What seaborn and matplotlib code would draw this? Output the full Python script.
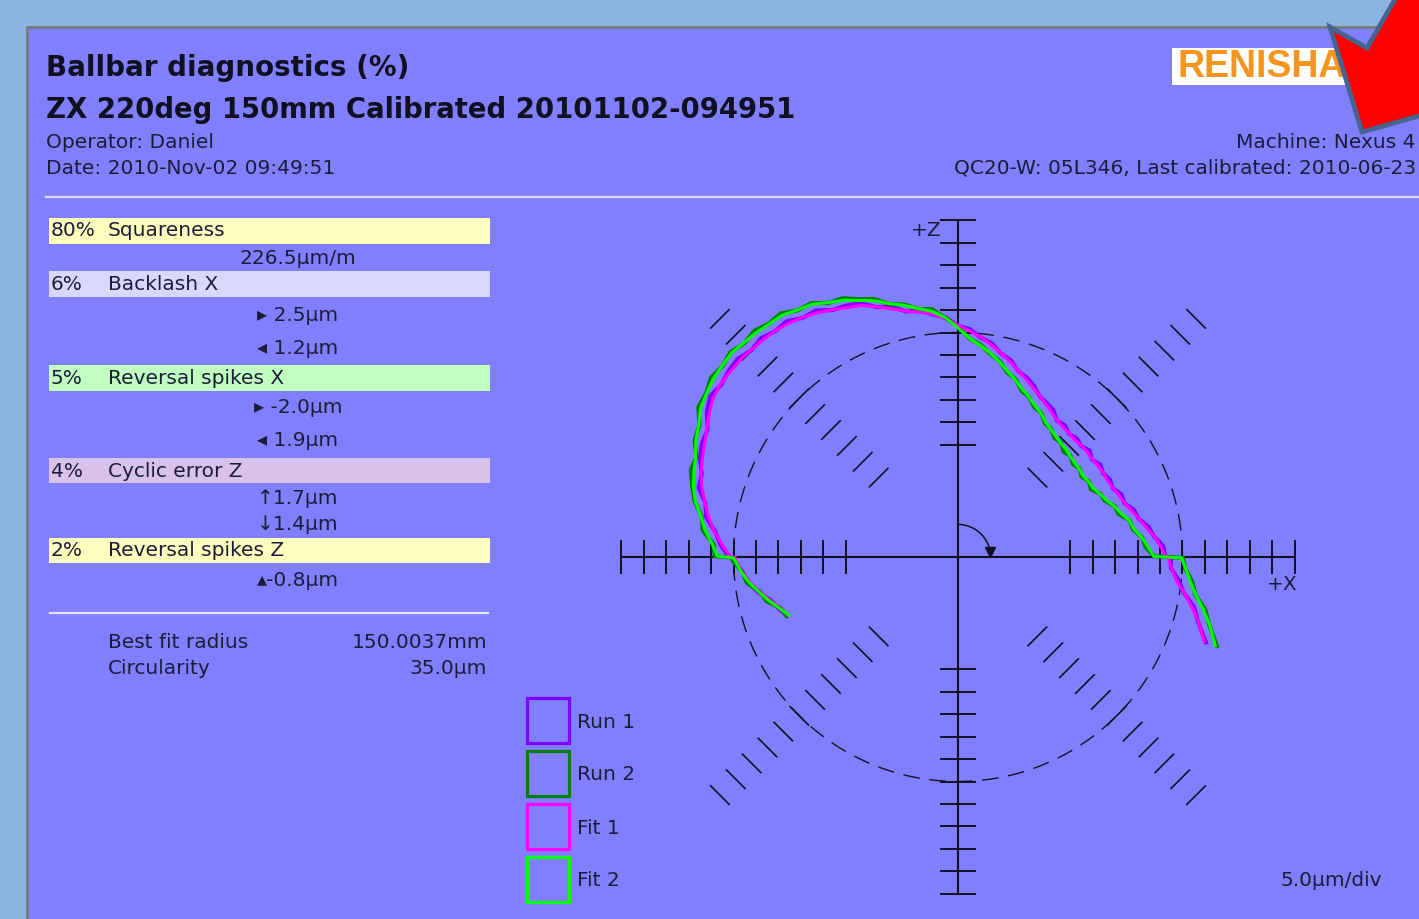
import numpy as np
import pandas as pd
import matplotlib
matplotlib.use('Agg')
import matplotlib.pyplot as plt
from matplotlib.patches import Rectangle, Polygon
from matplotlib.lines import Line2D
import seaborn as sns

# ---------------- values ----------------
# angle around the test arc (deg) and radial deviation (um) per series
theta_deg = [199, 196, 193, 190, 187, 184, 181, 180.2, 179.8,
             177, 174, 171, 168, 165, 162, 159, 156, 153, 150, 147, 144, 141, 138, 135,
             132, 129, 126, 123, 120, 117, 114, 111, 108, 105, 102, 99, 96, 93, 90,
             87, 84, 81, 78, 75, 72, 69, 66, 63, 60, 57, 54, 51, 48, 45, 42, 39, 36,
             33, 30, 27, 24, 21, 18, 15, 12, 9, 6, 3, 0.2,
             -0.2, -3, -6, -9, -12, -15, -19]

run1_um = [-9.8, -8.4, -7.2, -4.8, -3.0, -1.9, -0.2, -0.3, 1.2,
           3.0, 4.4, 6.8, 7.5, 9.8, 10.0, 11.6, 12.4, 12.6, 14.6, 15.8, 15.2, 15.8, 16.0, 15.1,
           15.6, 14.7, 14.9, 13.5, 13.4, 11.7, 11.3, 10.6, 8.5, 7.8, 5.9, 5.6, 4.3, 3.5, 1.5,
           0.8, -0.9, -1.8, -3.7, -4.6, -6.5, -7.2, -8.3, -9.9, -10.4, -11.0, -12.5, -12.2, -13.1,
           -12.6, -13.1, -12.3, -13.1, -12.2, -12.7, -12.0, -12.3, -11.0, -11.1, -9.4, -8.9,
           -7.0, -6.1, -4.2, -3.9,
           -2.6, -2.5, -0.6, 0.9, 3.8, 5.3, 8.4]

run2_um = [-9.6, -8.9, -6.2, -5.3, -2.6, -1.9, 0.2, 0.1, 4.2,
           4.5, 7.2, 7.8, 10.0, 11.3, 12.6, 12.4, 14.2, 14.6, 16.8, 16.9, 18.0, 17.5, 18.2, 17.3,
           17.8, 16.9, 17.1, 15.5, 15.3, 13.5, 13.1, 11.5, 10.4, 8.3, 7.5, 5.9, 5.5, 3.3, 1.4,
           -1.3, -2.4, -4.2, -5.4, -7.5, -8.4, -10.4, -11.0, -12.6, -12.9, -14.5, -14.7, -15.9,
           -15.7, -16.8, -16.3, -17.1, -16.5, -17.2, -16.3, -16.8, -15.3, -15.0, -13.3, -13.0,
           -10.9, -10.6, -8.7, -8.2, -6.3,
           0.1, 0.7, 2.5, 3.5, 6.3, 7.9, 11.0]

fit1_um = [-10.0, -8.8, -7.0, -5.2, -3.4, -1.8, -0.6, -0.4, 0.8,
           2.6, 4.6, 6.2, 7.6, 9.0, 10.2, 11.0, 11.8, 12.8, 14.0, 15.0, 15.4, 15.4, 15.4, 15.2,
           15.0, 14.8, 14.3, 13.6, 12.8, 11.8, 10.8, 10.0, 8.6, 7.2, 6.0, 5.2, 4.4, 3.2, 1.6,
           0.4, -0.8, -2.2, -3.6, -5.0, -6.4, -7.6, -8.8, -9.8, -10.8, -11.6, -12.4, -12.8,
           -13.0, -13.2, -13.0, -12.9, -13.0, -12.8, -12.6, -12.6, -12.2, -11.6, -11.0, -10.0,
           -8.8, -7.6, -6.0, -4.8, -3.8,
           -3.2, -2.4, -1.2, 1.0, 3.2, 5.4, 8.0]

fit2_um = [-10.2, -8.6, -6.8, -5.0, -3.2, -1.6, -0.4, 0.0, 3.6,
           4.8, 6.6, 8.0, 9.8, 11.0, 11.8, 12.6, 13.9, 14.8, 16.2, 16.8, 17.4, 17.6, 17.9, 17.5,
           17.2, 16.8, 16.6, 15.6, 15.0, 13.6, 12.6, 11.2, 10.0, 8.4, 7.3, 6.0, 5.0, 3.4, 1.0,
           -1.2, -2.6, -4.0, -5.6, -7.2, -8.6, -10.0, -11.0, -12.2, -13.0, -14.2, -14.8, -15.4,
           -15.8, -16.0, -16.4, -16.6, -16.6, -16.8, -16.4, -16.2, -15.4, -14.6, -13.4, -12.4,
           -11.0, -10.3, -8.8, -7.6, -6.4,
           -0.2, 0.8, 2.0, 3.6, 5.8, 8.0, 10.6]

series_names = ['Run 1', 'Run 2', 'Fit 1', 'Fit 2']
series_colors = ['#8000FF', '#008000', '#FF00FF', '#00FF00']

diag_pct = ['80%', '6%', '5%', '4%', '2%']
diag_names = ['Squareness', 'Backlash X', 'Reversal spikes X', 'Cyclic error Z', 'Reversal spikes Z']
diag_values = [['226.5µm/m'], ['▸ 2.5µm', '◂ 1.2µm'], ['▸ -2.0µm', '◂ 1.9µm'],
               ['↑1.7µm', '↓1.4µm'], ['▴-0.8µm']]
summary_names = ['Best fit radius', 'Circularity']
summary_values = ['150.0037mm', '35.0µm']

NOMINAL_DIV = 10      # dashed reference circle, in divisions
UM_PER_DIV = 5.0

# ---------------- figure / layout helpers (pixel coords, y from top) ----------------
W, H = 1419, 919
TXT = '#1c1c38'
plt.rcParams['font.family'] = 'DejaVu Sans'
fig = plt.figure(figsize=(W / 100, H / 100), dpi=100, facecolor='#8DB3E2')


def ftext(x, y, s, **kw):
    kw.setdefault('color', TXT)
    kw.setdefault('va', 'center')
    kw.setdefault('fontsize', 14.5)
    fig.text(x / W, 1 - y / H, s, **kw)


def frect(x0, y0, x1, y1, **kw):
    fig.add_artist(Rectangle((x0 / W, 1 - y1 / H), (x1 - x0) / W, (y1 - y0) / H,
                             transform=fig.transFigure, **kw))


def fline(x0, x1, y, **kw):
    fig.add_artist(Line2D([x0 / W, x1 / W], [1 - y / H, 1 - y / H],
                          transform=fig.transFigure, **kw))


# report panel
frect(27, 27, W + 10, H + 10, facecolor='#8080FF', edgecolor='#7A7A7A', lw=2, zorder=-5)

# header
ftext(46, 68, 'Ballbar diagnostics (%)', fontsize=20, fontweight='bold', color='#101020')
ftext(46, 110, 'ZX 220deg 150mm Calibrated 20101102-094951', fontsize=19.8,
      fontweight='bold', color='#101020')
ftext(46, 142, 'Operator: Daniel')
ftext(46, 168, 'Date: 2010-Nov-02 09:49:51')
ftext(1416, 142, 'Machine: Nexus 4', ha='right')
ftext(1416, 168, 'QC20-W: 05L346, Last calibrated: 2010-06-23', ha='right')
fline(46, W, 197, color='#DCDCF4', lw=1.6)

# logo + red arrow
frect(1172, 48, 1390, 85, facecolor='white', edgecolor='none', zorder=1)
ftext(1177, 67, 'RENISHAW', family='Liberation Sans', fontweight='bold', fontsize=27,
      color='#F7941D', zorder=2)
arrow_px = [(1362, 132), (1330, 27), (1367, 48), (1467, -126), (1532, -89),
            (1432, 85), (1462, 104)]
fig.add_artist(Polygon([(x / W, 1 - y / H) for x, y in arrow_px], closed=True,
                       transform=fig.transFigure, facecolor='#FF0000',
                       edgecolor='#45648F', lw=3.4, joinstyle='miter', zorder=6))

# diagnostics table
row_y = [231, 284, 378, 471, 550]
row_colors = ['#FFFFC0', '#D8D8FF', '#C0FFC0', '#D8C2EA', '#FFFFC0']
value_y = [[258], [315, 348], [408, 441], [498, 524], [581]]
for pct, name, vals, yc, col, vys in zip(diag_pct, diag_names, diag_values,
                                         row_y, row_colors, value_y):
    frect(49, yc - 12.5, 490, yc + 12.5, facecolor=col, edgecolor='none', zorder=-1)
    ftext(51, yc, pct)
    ftext(108, yc, name)
    for v, vy in zip(vals, vys):
        ftext(298, vy, v, ha='center')
fline(50, 488, 613, color='#E6E6FF', lw=1.6)
for i, (n, v) in enumerate(zip(summary_names, summary_values)):
    ftext(108, 642 + 27 * i, n)
    ftext(487, 642 + 27 * i, v, ha='right')

# legend boxes
for i, (name, col) in enumerate(zip(series_names, series_colors)):
    y0 = 698 + 53 * i
    frect(527, y0, 569, y0 + 45, facecolor='none', edgecolor=col, lw=2.3, zorder=2)
    ftext(577, y0 + 24, name)

ftext(1280, 881, '5.0µm/div')
ftext(926, 231, '+Z', ha='center')
ftext(1282, 585, '+X', ha='center')

# ---------------- polar error plot ----------------
PX_PER_DIV = 22.45
cx, cy = 958, 557
half = 16
ax = fig.add_axes([(cx - half * PX_PER_DIV) / W, (H - cy - half * PX_PER_DIV) / H,
                   2 * half * PX_PER_DIV / W, 2 * half * PX_PER_DIV / H])
ax.set_xlim(-half, half)
ax.set_ylim(-half, half)

rows = []
for name, devs in zip(series_names, [run1_um, run2_um, fit1_um, fit2_um]):
    for t, d in zip(theta_deg, devs):
        rows.append((name, t, d))
df = pd.DataFrame(rows, columns=['series', 'theta', 'dev'])
rad = NOMINAL_DIV + df['dev'] / UM_PER_DIV
df['x'] = rad * np.cos(np.radians(df['theta']))
df['y'] = rad * np.sin(np.radians(df['theta']))

for name, col, lw in zip(series_names, series_colors, [2.9, 2.9, 2.2, 2.2]):
    sns.lineplot(data=df[df.series == name], x='x', y='y', sort=False, estimator=None,
                 color=col, lw=lw, ax=ax, zorder=4)

# cross axes with division ticks
k = '#111122'
ax.plot([-15, 15], [0, 0], color=k, lw=1.5, zorder=2)
ax.plot([0, 0], [-15, 15], color=k, lw=1.5, zorder=2)
divs = np.arange(5, 16)
for d in divs:
    for s in (-1, 1):
        ax.plot([s * d, s * d], [-0.72, 0.72], color=k, lw=1.4, zorder=2)
        ax.plot([-0.75, 0.75], [s * d, s * d], color=k, lw=1.4, zorder=2)

# diagonal hatch marks
for ang in (45, 135, 225, 315):
    a = np.radians(ang)
    for d in divs:
        px, py = d * np.cos(a), d * np.sin(a)
        tx, ty = -np.sin(a) * 0.58, np.cos(a) * 0.58
        ax.plot([px - tx, px + tx], [py - ty, py + ty], color=k, lw=1.2, zorder=2)

# nominal dashed circle
t = np.linspace(0, 2 * np.pi, 400)
ax.plot(NOMINAL_DIV * np.cos(t), NOMINAL_DIV * np.sin(t), color=k, lw=1.0,
        ls=(0, (12, 7)), zorder=2)

# direction arrow
ta = np.radians(np.linspace(90, 14, 40))
ax.plot(1.45 * np.cos(ta), 1.45 * np.sin(ta), color=k, lw=1.1, zorder=3)
ax.plot([1.45 * np.cos(np.radians(9))], [1.45 * np.sin(np.radians(9))], marker='v',
        color=k, ms=7, zorder=3)

ax.axis('off')

fig.savefig('out.png', dpi=100, facecolor=fig.get_facecolor())
